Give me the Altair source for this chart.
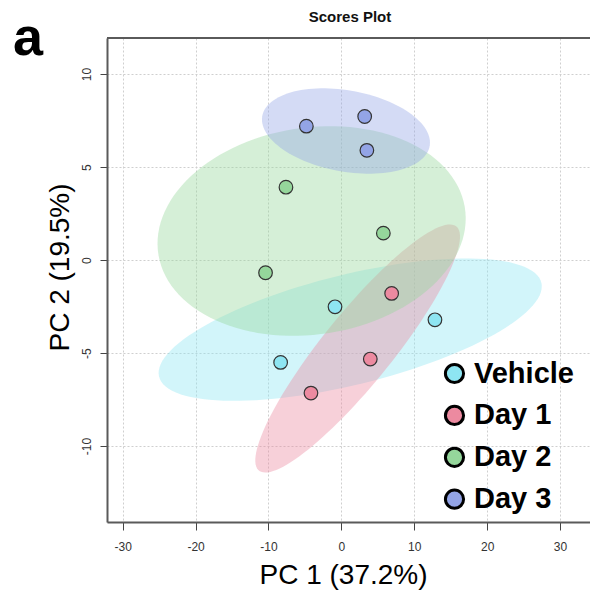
import altair as alt
import numpy as np
import pandas as pd

# ---- data ----
groups = ["Vehicle", "Day 1", "Day 2", "Day 3"]
group_colors = ["#8ee5f2", "#ec8aa0", "#95d69b", "#93a4e6"]

vehicle_pc1 = [-0.87, 12.84, -8.33]
vehicle_pc2 = [-2.51, -3.21, -5.50]
day1_pc1 = [6.90, 3.97, -4.17]
day1_pc2 = [-1.79, -5.32, -7.15]
day2_pc1 = [-7.60, 5.76, -10.40]
day2_pc2 = [3.92, 1.45, -0.68]
day3_pc1 = [-4.80, 3.20, 3.50]
day3_pc2 = [7.20, 7.72, 5.90]

x_ticks = [-30, -20, -10, 0, 10, 20, 30]
y_ticks = [-10, -5, 0, 5, 10]
x_title = "PC 1 (37.2%)"
y_title = "PC 2 (19.5%)"
chart_title = "Scores Plot"
panel_label = "a"

pc1 = [vehicle_pc1, day1_pc1, day2_pc1, day3_pc1]
pc2 = [vehicle_pc2, day1_pc2, day2_pc2, day3_pc2]

points = pd.DataFrame(
    [{"group": g, "pc1": a, "pc2": b}
     for g, xs, ys in zip(groups, pc1, pc2) for a, b in zip(xs, ys)]
)

# 95% confidence ellipses computed from each group's scores
t = np.sqrt(5.991464547)  # sqrt(qchisq(0.95, 2))
rows = []
for g, xs, ys in zip(groups, pc1, pc2):
    cov = np.cov(np.array(xs), np.array(ys))
    centre = np.array([np.mean(xs), np.mean(ys)])
    vals, vecs = np.linalg.eigh(cov)
    ang = np.linspace(0, 2 * np.pi, 121)
    circ = np.vstack([np.cos(ang), np.sin(ang)])
    pts = (vecs @ np.diag(np.sqrt(vals) * t) @ circ).T + centre
    for i, (a, b) in enumerate(pts):
        rows.append({"group": g, "idx": i, "pc1": a, "pc2": b})
ellipses = pd.DataFrame(rows)

FONT = "Liberation Sans"
xscale = alt.Scale(domain=[-32.15, 34.11], nice=False, zero=False)
yscale = alt.Scale(domain=[-14.08, 11.94], nice=False, zero=False)
fscale = alt.Scale(domain=groups, range=group_colors)

x_axis = alt.Axis(
    values=x_ticks, grid=True, gridDash=[2, 2], gridColor="#cfcfcf",
    domainColor="#5a5a5a", domainWidth=2, tickColor="#444", tickSize=8,
    labelFont=FONT, labelFontSize=12, labelColor="#333", labelPadding=11,
    labelExpr="'' + datum.value",
    title=x_title, titleFont=FONT, titleFontSize=28, titleFontWeight="normal",
    titleColor="black", titleX=236, titleY=61, titleAlign="center",
    titleBaseline="alphabetic",
)
y_axis = alt.Axis(
    values=y_ticks, grid=True, gridDash=[2, 2], gridColor="#cfcfcf",
    domainColor="#5a5a5a", domainWidth=2, tickColor="#444", tickSize=7,
    labelFont=FONT, labelFontSize=12, labelColor="#333", labelPadding=7,
    labelAngle=270, labelAlign="center", labelBaseline="bottom",
    labelExpr="'' + datum.value",
    title=y_title, titleFont=FONT, titleFontSize=28, titleFontWeight="normal",
    titleColor="black", titleAngle=270, titleX=-39, titleY=229,
    titleAlign="center", titleBaseline="alphabetic",
)

legend = alt.Legend(
    orient="none", legendX=333, legendY=321, title=None, padding=0,
    labelFont=FONT, labelFontSize=29, labelFontWeight="bold",
    labelColor="black", labelOffset=5, rowPadding=10.9,
    symbolType="circle", symbolSize=330, symbolStrokeWidth=3,
    symbolStrokeColor="black", symbolOpacity=1,
)

ell = alt.Chart(ellipses).mark_line(filled=True, fillOpacity=0.4, strokeWidth=0).encode(
    x=alt.X("pc1:Q", scale=xscale, axis=x_axis),
    y=alt.Y("pc2:Q", scale=yscale, axis=y_axis),
    fill=alt.Fill("group:N", scale=fscale, legend=legend),
    detail="group:N",
    order="idx:Q",
)

pts = alt.Chart(points).mark_point(
    filled=True, size=185, stroke="#333333", strokeWidth=1.2, opacity=1
).encode(
    x=alt.X("pc1:Q", scale=xscale, axis=x_axis),
    y=alt.Y("pc2:Q", scale=yscale, axis=y_axis),
    fill=alt.Fill("group:N", scale=fscale, legend=legend),
)

# top edge of the plot frame
frame_top = alt.Chart(pd.DataFrame({"k": [0]})).mark_rule(
    color="#5a5a5a", strokeWidth=2
).encode(x=alt.value(0), x2=alt.value(483), y=alt.value(0))

lab = alt.Chart(pd.DataFrame({"t": [panel_label]})).mark_text(
    font=FONT, fontSize=54, fontWeight="bold", align="left",
    baseline="alphabetic", color="black",
).encode(text="t:N", x=alt.value(-94), y=alt.value(17))

ttl = alt.Chart(pd.DataFrame({"t": [chart_title]})).mark_text(
    font=FONT, fontSize=15, fontWeight="bold", align="center",
    baseline="alphabetic", color="#111",
).encode(text="t:N", x=alt.value(243), y=alt.value(-16))

chart = alt.layer(ell, pts, frame_top, lab, ttl).properties(
    width=483, height=484,
    autosize=alt.AutoSizeParams(type="none"),
    padding={"left": 107, "top": 38, "right": 0, "bottom": 70},
).configure_view(stroke=None).configure(background="white")

chart.save("out.html", embed_options={"renderer": "svg", "actions": False})
